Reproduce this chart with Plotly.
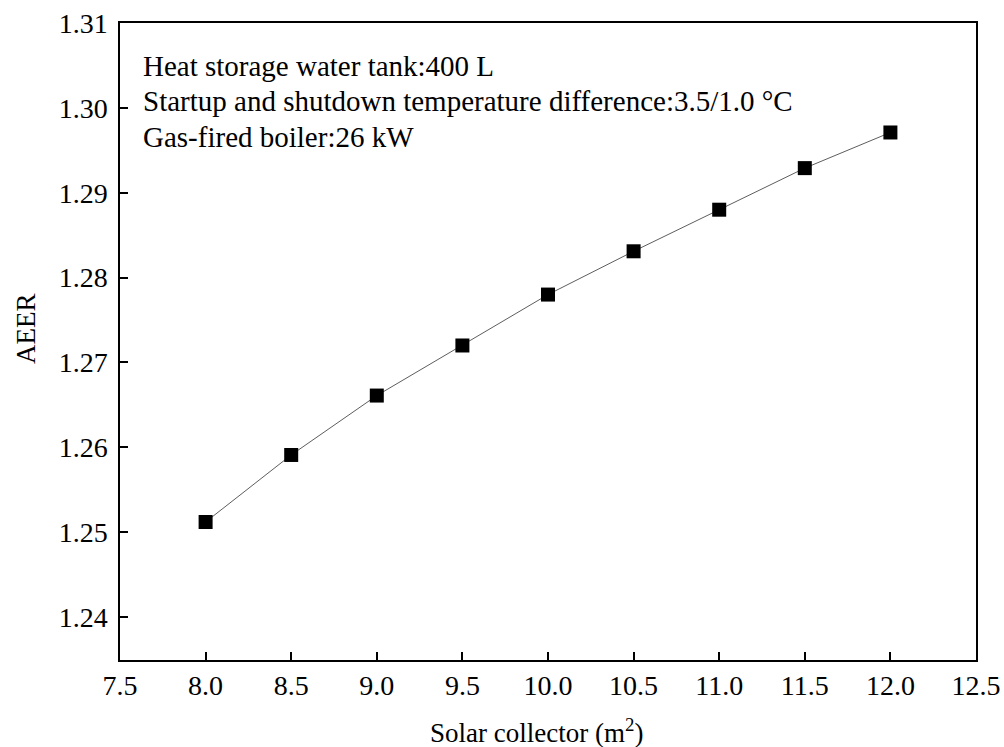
import plotly.graph_objects as go

collector_area = [8.0, 8.5, 9.0, 9.5, 10.0, 10.5, 11.0, 11.5, 12.0]
aeer = [1.2512, 1.2591, 1.2661, 1.2720, 1.2780, 1.2831, 1.2880, 1.2929, 1.2971]
x_ticks = [7.5, 8.0, 8.5, 9.0, 9.5, 10.0, 10.5, 11.0, 11.5, 12.0, 12.5]
y_ticks = [1.24, 1.25, 1.26, 1.27, 1.28, 1.29, 1.30, 1.31]
notes = ["Heat storage water tank:400 L",
         "Startup and shutdown temperature difference:3.5/1.0 \u00b0C",
         "Gas-fired boiler:26 kW"]
x_title = "Solar collector (m<sup>2</sup>)"
y_title = "AEER"

font = "Liberation Serif"
fig = go.Figure()
fig.add_trace(go.Scatter(
    x=collector_area, y=aeer, mode="lines+markers",
    line=dict(color="#333333", width=0.8),
    marker=dict(symbol="square", size=14, color="black"),
    showlegend=False))

W, H = 1004, 747
ml, mr, mt, mb = 120, 28, 23, 87
fig.update_layout(
    width=W, height=H, margin=dict(l=ml, r=mr, t=mt, b=mb, autoexpand=False),
    paper_bgcolor="white", plot_bgcolor="white",
    font=dict(family=font, size=28, color="black"),
)
fig.update_xaxes(
    range=[7.5, 12.5], tickvals=x_ticks, ticktext=[f"{v:.1f}" for v in x_ticks],
    ticks="inside", ticklen=8, tickwidth=1.5, tickcolor="black",
    showline=True, linecolor="black", linewidth=1.5, mirror=True, automargin=False,
    showgrid=False, zeroline=False, tickfont=dict(family=font, size=28))
fig.update_yaxes(
    range=[1.23494, 1.31], tickvals=y_ticks, ticktext=[f"{v:.2f}" for v in y_ticks],
    ticks="inside", ticklen=8, tickwidth=1.5, tickcolor="black", ticklabelstandoff=5,
    showline=True, linecolor="black", linewidth=1.5, mirror=True, automargin=False,
    showgrid=False, zeroline=False, tickfont=dict(family=font, size=28))

pw = W - ml - mr
ph = H - mt - mb
for i, (t, yc) in enumerate(zip(notes, [66, 101, 137])):
    fig.add_annotation(
        text=t, xref="paper", yref="paper",
        x=(141 - ml) / pw, y=1 - (yc - mt) / ph,
        xanchor="left", yanchor="middle", showarrow=False,
        font=dict(family=font, size=29, color="black"))

fig.add_annotation(
    text=x_title, xref="paper", yref="paper",
    x=(536 - ml) / pw, y=1 - (731 - mt) / ph,
    xanchor="center", yanchor="middle", showarrow=False,
    font=dict(family=font, size=27, color="black"))
fig.add_annotation(
    text=y_title, xref="paper", yref="paper", textangle=-90,
    x=(26 - ml) / pw, y=1 - (329 - mt) / ph,
    xanchor="center", yanchor="middle", showarrow=False,
    font=dict(family=font, size=27, color="black"))

fig.write_html("out.html")
